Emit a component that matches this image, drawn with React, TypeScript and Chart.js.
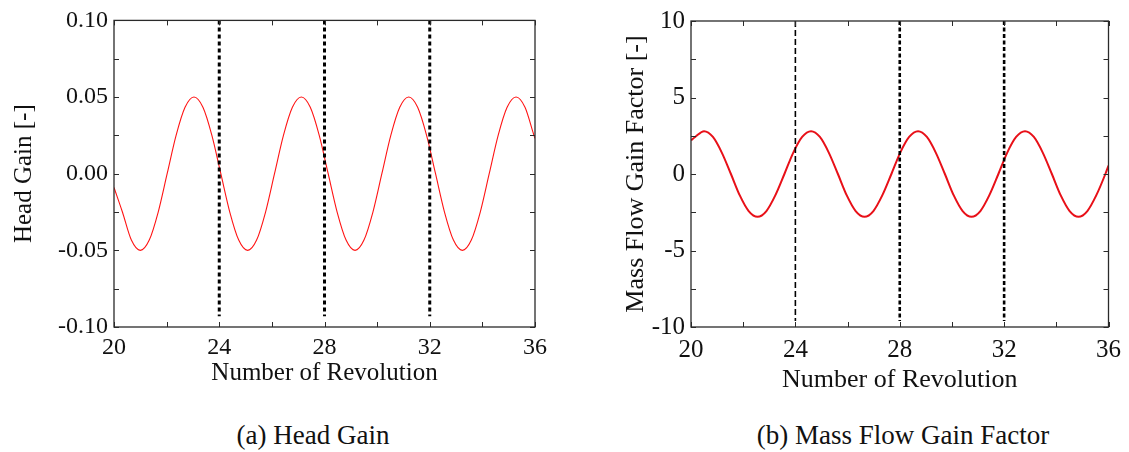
import React, { useEffect, useRef } from "react";
import { Chart, registerables } from "chart.js";

Chart.register(...registerables);

// ---------- data ----------
const headX = [20, 20.32, 20.66, 21.0, 21.34, 21.68, 22.02, 22.36, 22.7, 23.04, 23.38, 23.72, 24.06, 24.4, 24.74, 25.08, 25.42, 25.76, 26.1, 26.44, 26.78, 27.12, 27.46, 27.8, 28.14, 28.48, 28.82, 29.16, 29.5, 29.84, 30.18, 30.52, 30.86, 31.2, 31.54, 31.88, 32.22, 32.56, 32.9, 33.24, 33.58, 33.92, 34.26, 34.6, 34.94, 35.28, 35.62, 35.96, 36.0];
const headGain = [-0.009, -0.025, -0.0433, -0.05, -0.0433, -0.025, 0, 0.025, 0.0433, 0.05, 0.0433, 0.025, 0, -0.025, -0.0433, -0.05, -0.0433, -0.025, 0, 0.025, 0.0433, 0.05, 0.0433, 0.025, 0, -0.025, -0.0433, -0.05, -0.0433, -0.025, 0, 0.025, 0.0433, 0.05, 0.0433, 0.025, 0, -0.025, -0.0433, -0.05, -0.0433, -0.025, 0, 0.025, 0.0433, 0.05, 0.0433, 0.025, 0.023];

const massX = [20, 20.16, 20.5, 20.84, 21.18, 21.53, 21.87, 22.21, 22.55, 22.89, 23.23, 23.58, 23.92, 24.26, 24.6, 24.94, 25.28, 25.63, 25.97, 26.31, 26.65, 26.99, 27.33, 27.68, 28.02, 28.36, 28.7, 29.04, 29.38, 29.73, 30.07, 30.41, 30.75, 31.09, 31.43, 31.78, 32.12, 32.46, 32.8, 33.14, 33.48, 33.83, 34.17, 34.51, 34.85, 35.19, 35.53, 35.88, 36.0];
const massGain = [2.2, 2.42, 2.8, 2.42, 1.4, 0, -1.4, -2.42, -2.8, -2.42, -1.4, 0, 1.4, 2.42, 2.8, 2.42, 1.4, 0, -1.4, -2.42, -2.8, -2.42, -1.4, 0, 1.4, 2.42, 2.8, 2.42, 1.4, 0, -1.4, -2.42, -2.8, -2.42, -1.4, 0, 1.4, 2.42, 2.8, 2.42, 1.4, 0, -1.4, -2.42, -2.8, -2.42, -1.4, 0, 0.55];

const markerRevs = [24, 28, 32];
const headDashEnds = [0.1, -0.093];
const massDashEnds = [10, -9.6];

const xMin = 20;
const xMax = 36;
const xMajorStep = 4;
const xMinorStep = 2;
const headYMin = -0.1;
const headYMax = 0.1;
const headYStep = 0.05;
const headYMinor = 0.025;
const massYMin = -10;
const massYMax = 10;
const massYStep = 5;
const massYMinor = 2.5;

const SERIF = "'Liberation Serif', 'DejaVu Serif', Tinos, 'Times New Roman', Times, serif";

// ---------- frame + inward tick plugin ----------
function framePlugin(xStep: number, yStep: number) {
  return {
    id: "frameTicks",
    afterDatasetsDraw(chart: any) {
      const { ctx, chartArea } = chart;
      const { left, right, top, bottom } = chartArea;
      const xs = chart.scales.x;
      const ys = chart.scales.y;
      ctx.save();
      ctx.strokeStyle = "#2a2a2a";
      ctx.lineWidth = 1.3;
      ctx.strokeRect(left, top, right - left, bottom - top);
      ctx.lineWidth = 1;
      const len = 5;
      for (let v = xs.min; v <= xs.max + 1e-9; v += xStep) {
        const px = Math.round(xs.getPixelForValue(v)) + 0.5;
        ctx.beginPath();
        ctx.moveTo(px, bottom);
        ctx.lineTo(px, bottom - len);
        ctx.moveTo(px, top);
        ctx.lineTo(px, top + len);
        ctx.stroke();
      }
      for (let v = ys.min; v <= ys.max + 1e-9; v += yStep) {
        const py = Math.round(ys.getPixelForValue(v)) + 0.5;
        ctx.beginPath();
        ctx.moveTo(left, py);
        ctx.lineTo(left + len, py);
        ctx.moveTo(right, py);
        ctx.lineTo(right - len, py);
        ctx.stroke();
      }
      ctx.restore();
    },
  };
}

function dashSets(ends: number[], widths: number[], dashes: number[][]) {
  return markerRevs.map((r, i) => ({
    data: [
      { x: r, y: ends[0] },
      { x: r, y: ends[1] },
    ],
    showLine: true,
    borderColor: "#000",
    borderWidth: widths[i],
    borderDash: dashes[i],
    pointRadius: 0,
    fill: false,
  }));
}

function makeConfig(opts: any) {
  const {
    xs, ys, lineColor, lineWidth, dashes, yMin, yMax, yStep, yMinor, yFmt,
    yTitle, tickFont, titleFont, yAxisWidth, xAxisHeight, padding, xTickPad, xTitlePad, yTitlePad,
  } = opts;
  return {
    type: "scatter",
    data: {
      datasets: [
        ...dashes,
        {
          data: xs.map((x: number, i: number) => ({ x, y: ys[i] })),
          showLine: true,
          borderColor: lineColor,
          borderWidth: lineWidth,
          pointRadius: 0,
          cubicInterpolationMode: "monotone",
          fill: false,
        },
      ],
    },
    options: {
      responsive: false,
      animation: false,
      events: [],
      layout: { padding },
      plugins: { legend: { display: false }, tooltip: { enabled: false } },
      scales: {
        x: {
          type: "linear",
          min: xMin,
          max: xMax,
          grid: { display: false, drawTicks: false },
          border: { display: false },
          ticks: {
            stepSize: xMajorStep,
            color: "#111",
            font: { family: SERIF, size: tickFont },
            padding: xTickPad,
            maxRotation: 0,
          },
          title: {
            display: true,
            text: "Number of Revolution",
            color: "#111",
            font: { family: SERIF, size: titleFont },
            padding: { top: 0, bottom: xTitlePad },
          },
          afterFit(scale: any) {
            scale.height = xAxisHeight;
          },
        },
        y: {
          type: "linear",
          min: yMin,
          max: yMax,
          grid: { display: false, drawTicks: false },
          border: { display: false },
          ticks: {
            stepSize: yStep,
            color: "#111",
            font: { family: SERIF, size: tickFont },
            padding: 6,
            callback: yFmt,
          },
          title: {
            display: true,
            text: yTitle,
            color: "#111",
            font: { family: SERIF, size: titleFont },
            padding: { top: yTitlePad, bottom: 0 },
          },
          afterFit(scale: any) {
            scale.width = yAxisWidth;
          },
        },
      },
    },
    plugins: [framePlugin(xMinorStep, yMinor)],
  };
}

function ChartCanvas({ config, width, height, style }: any) {
  const ref = useRef<HTMLCanvasElement | null>(null);
  useEffect(() => {
    if (!ref.current) return;
    const chart = new Chart(ref.current, config);
    return () => chart.destroy();
  }, []);
  return <canvas ref={ref} width={width} height={height} style={{ position: "absolute", ...style, width, height }} />;
}

export default function App() {
  const headCfg = makeConfig({
    xs: headX,
    ys: headGain,
    lineColor: "rgb(255,20,20)",
    lineWidth: 1.1,
    dashes: dashSets(headDashEnds, [3, 3, 3], [[4, 3], [4, 3], [4, 3]]),
    yMin: headYMin,
    yMax: headYMax,
    yStep: headYStep,
    yMinor: headYMinor,
    yFmt: (v: number) => Number(v).toFixed(2),
    yTitle: "Head Gain [-]",
    tickFont: 24,
    titleFont: 25,
    yAxisWidth: 114,
    xAxisHeight: 73,
    padding: { left: 0, right: 30, top: 18, bottom: 0 },
    xTickPad: 6,
    xTitlePad: 12,
    yTitlePad: 9,
  });
  const massCfg = makeConfig({
    xs: massX,
    ys: massGain,
    lineColor: "rgb(232,16,24)",
    lineWidth: 2,
    dashes: dashSets(massDashEnds, [1.6, 2.6, 2.6], [[6, 3], [4, 2.5], [4, 2.5]]),
    yMin: massYMin,
    yMax: massYMax,
    yStep: massYStep,
    yMinor: massYMinor,
    yFmt: (v: number) => String(Math.round(v)),
    yTitle: "Mass Flow Gain Factor [-]",
    tickFont: 25,
    titleFont: 26,
    yAxisWidth: 126,
    xAxisHeight: 73,
    padding: { left: 0, right: 17, top: 17, bottom: 0 },
    xTickPad: 8,
    xTitlePad: 4,
    yTitlePad: 56,
  });
  const captionStyle: any = {
    position: "absolute",
    top: 419,
    width: 400,
    textAlign: "center",
    fontFamily: SERIF,
    fontSize: 27,
    lineHeight: "32px",
    color: "#111",
  };
  return (
    <div style={{ position: "fixed", left: 0, top: 0, width: 1129, height: 452, background: "#fff", overflow: "hidden" }}>
      <ChartCanvas config={headCfg} width={565} height={400} style={{ left: 0, top: 0 }} />
      <ChartCanvas config={massCfg} width={564} height={400} style={{ left: 565, top: 0 }} />
      <div style={{ ...captionStyle, left: 313 - 200 }}>(a) Head Gain</div>
      <div style={{ ...captionStyle, left: 903 - 200 }}>(b) Mass Flow Gain Factor</div>
    </div>
  );
}
